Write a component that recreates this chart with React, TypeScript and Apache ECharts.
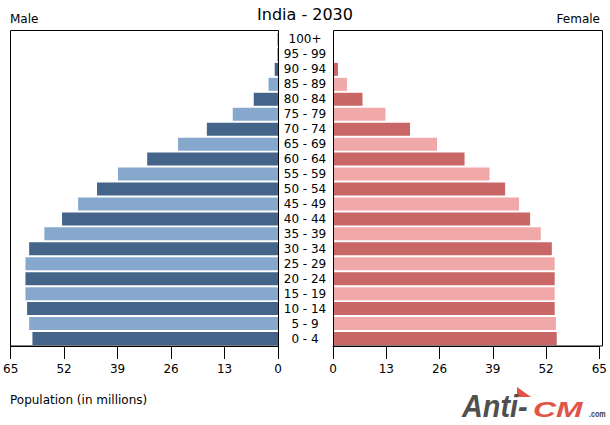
import React, { useEffect, useRef } from "react";
import * as echarts from "echarts";

const ageGroups = [
  "0 - 4", "5 - 9", "10 - 14", "15 - 19", "20 - 24", "25 - 29", "30 - 34",
  "35 - 39", "40 - 44", "45 - 49", "50 - 54", "55 - 59", "60 - 64", "65 - 69",
  "70 - 74", "75 - 79", "80 - 84", "85 - 89", "90 - 94", "95 - 99", "100+",
];
const maleValues = [
  59.7, 60.5, 61.0, 61.4, 61.4, 61.4, 60.5, 56.8, 52.5, 48.6, 44.0, 38.9,
  31.8, 24.3, 17.3, 11.0, 5.9, 2.3, 0.8, 0.2, 0.1,
];
const femaleValues = [
  54.6, 54.4, 54.1, 54.1, 54.1, 54.1, 53.4, 50.7, 48.1, 45.4, 42.0, 38.2,
  32.1, 25.4, 18.8, 12.8, 7.2, 3.4, 1.2, 0.1, 0.2,
];
const xTicks = { min: 0, max: 65, interval: 13 };

const FONT = "DejaVu Sans";
const maleDark = "#44648a";
const maleLight = "#87a8cd";
const femaleDark = "#c96666";
const femaleLight = "#f0a8a8";

export default function App() {
  const ref = useRef<HTMLDivElement>(null);
  useEffect(() => {
    if (!ref.current) return;
    const chart = echarts.init(ref.current, undefined, { renderer: "svg" });
    const commonX = {
      type: "value" as const,
      min: xTicks.min,
      max: xTicks.max,
      interval: xTicks.interval,
      splitLine: { show: false },
      axisLine: { show: true, lineStyle: { color: "#000", width: 1 } },
      axisTick: { show: true, length: 13, lineStyle: { color: "#000" } },
      axisLabel: { color: "#000", fontFamily: FONT, fontSize: 12, margin: 17 },
    };
    chart.setOption({
      animation: false,
      backgroundColor: "#fff",
      textStyle: { fontFamily: FONT },
      grid: [
        { left: 10, top: 32, width: 268, height: 314 },
        { left: 333, top: 32, width: 269, height: 314 },
      ],
      xAxis: [
        { ...commonX, gridIndex: 0, inverse: true },
        { ...commonX, gridIndex: 1 },
      ],
      yAxis: [
        {
          type: "category", gridIndex: 0, data: ageGroups,
          axisLine: { show: false }, axisTick: { show: false }, axisLabel: { show: false },
        },
        {
          type: "category", gridIndex: 1, data: ageGroups, position: "left",
          axisLine: { show: false }, axisTick: { show: false },
          axisLabel: {
            show: true, color: "#000", fontFamily: FONT, fontSize: 12,
            align: "center", margin: 28, interval: 0, padding: [2, 0, 0, 0],
          },
        },
      ],
      series: [
        {
          type: "bar", xAxisIndex: 0, yAxisIndex: 0, data: maleValues, barWidth: 13,
          itemStyle: { color: (p: any) => (p.dataIndex % 2 === 0 ? maleDark : maleLight) },
        },
        {
          type: "bar", xAxisIndex: 1, yAxisIndex: 1, data: femaleValues, barWidth: 13,
          itemStyle: { color: (p: any) => (p.dataIndex % 2 === 0 ? femaleDark : femaleLight) },
        },
      ],
      graphic: [
        { type: "rect", shape: { x: 10.5, y: 30.5, width: 268, height: 315.5 }, style: { fill: "none", stroke: "#000", lineWidth: 1 }, z: 10 },
        { type: "rect", shape: { x: 333.5, y: 30.5, width: 269, height: 315.5 }, style: { fill: "none", stroke: "#000", lineWidth: 1 }, z: 10 },
        { type: "text", left: "center", top: 6, style: { text: "India - 2030", font: `16px ${FONT}`, fill: "#000" } },
        { type: "text", x: 10, y: 13, style: { text: "Male", font: `12px ${FONT}`, fill: "#000" } },
        { type: "text", x: 600, y: 13, style: { text: "Female", font: `12px ${FONT}`, fill: "#000", align: "right" } },
        { type: "text", x: 10, y: 394, style: { text: "Population (in millions)", font: `12px ${FONT}`, fill: "#000" } },
        { type: "polygon", shape: { points: [[517, 387], [517, 397], [531, 397]] }, style: { fill: "#e05548" } },
        { type: "text", x: 462, y: 405.5, scaleX: 0.9, style: { text: "Anti-", font: `italic bold 32px Liberation Sans`, fill: "#4f4f4f", verticalAlign: "middle" } },
        { type: "text", x: 533, y: 409.5, scaleX: 1.45, style: { text: "CM", font: `italic bold 22px Liberation Sans`, fill: "#e05548", verticalAlign: "middle" } },
        { type: "text", x: 589, y: 414, scaleX: 0.8, style: { text: ".com", font: `bold 9px Liberation Sans`, fill: "#444", verticalAlign: "middle" } },
      ],
    });
    return () => chart.dispose();
  }, []);
  return (
    <div
      ref={ref}
      style={{ position: "fixed", left: 0, top: 0, width: 610, height: 425 }}
    />
  );
}
